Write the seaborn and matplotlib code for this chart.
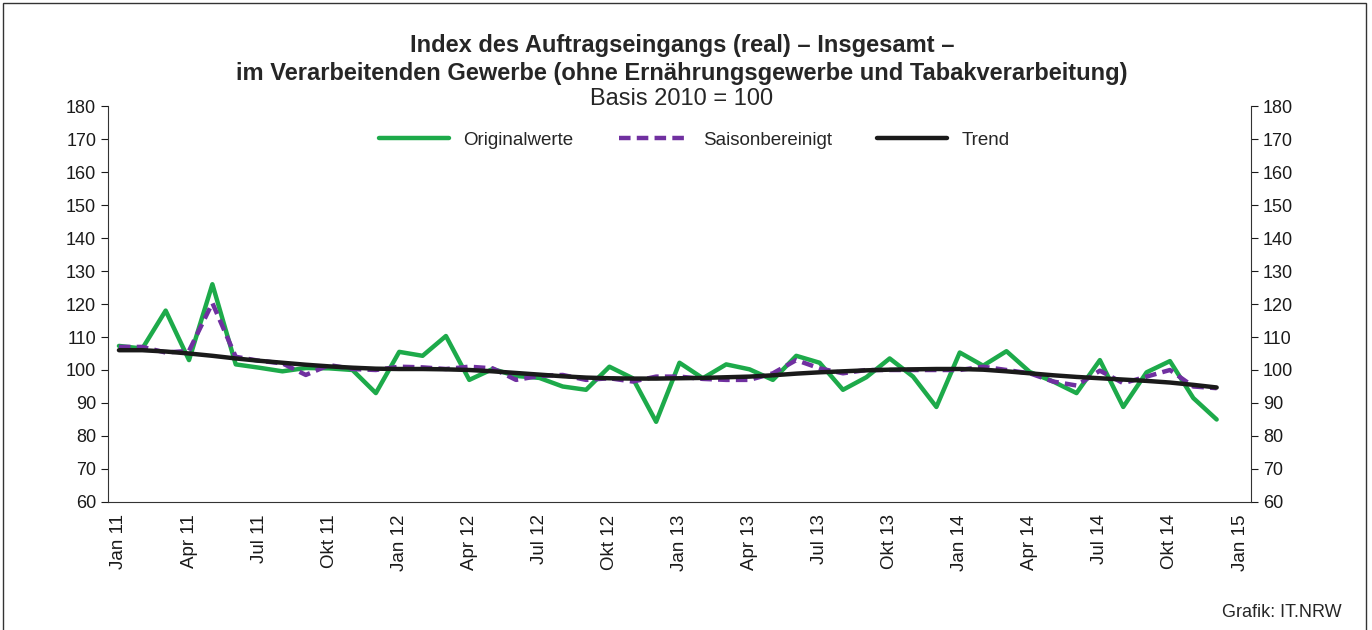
import pandas as pd
import numpy as np
import matplotlib.pyplot as plt
import seaborn as sns
from matplotlib.patches import Rectangle

# =====================================
# DATA (monthly, Jan 2011 - Dec 2014)
# =====================================
months = list(range(48))

originalwerte = [
    107.3, 106.5, 118.0, 103.0, 126.0, 101.7, 100.7, 99.6, 100.6, 100.5, 100.0, 93.0,
    105.5, 104.3, 110.3, 97.0, 100.3, 98.2, 97.6, 95.0, 94.0, 101.0, 97.5, 84.3,
    102.2, 97.5, 101.7, 100.2, 97.0, 104.3, 102.2, 94.0, 97.8, 103.5, 98.0, 88.8,
    105.3, 101.3, 105.7, 99.4, 96.5, 93.0, 103.0, 88.8, 99.3, 102.7, 91.5, 85.0,
]

saisonbereinigt = [
    107.0, 107.0, 105.3, 105.8, 120.3, 104.0, 102.8, 102.0, 98.5, 101.5, 100.3, 100.0,
    101.0, 100.8, 100.3, 101.0, 100.5, 97.0, 98.2, 98.5, 97.0, 97.5, 96.5, 98.0,
    98.0, 97.3, 97.0, 97.0, 99.0, 103.0, 100.5, 99.0, 100.0, 100.0, 100.0, 100.0,
    100.0, 101.0, 100.0, 99.0, 96.5, 95.3, 99.8, 96.0, 98.0, 100.0, 95.0, 94.5,
]

trend = [
    106.0, 106.0, 105.6, 105.0, 104.3, 103.5, 102.8, 102.2, 101.6, 101.1, 100.7, 100.4,
    100.3, 100.3, 100.2, 100.0, 99.6, 99.1, 98.6, 98.1, 97.7, 97.5, 97.4, 97.4,
    97.5, 97.6, 97.8, 98.0, 98.4, 98.9, 99.3, 99.6, 99.9, 100.1, 100.2, 100.3,
    100.3, 100.1, 99.6, 99.0, 98.4, 97.9, 97.5, 97.1, 96.7, 96.2, 95.5, 94.7,
]

tick_positions = list(range(0, 49, 3))
tick_labels = [
    "Jan 11", "Apr 11", "Jul 11", "Okt 11",
    "Jan 12", "Apr 12", "Jul 12", "Okt 12",
    "Jan 13", "Apr 13", "Jul 13", "Okt 13",
    "Jan 14", "Apr 14", "Jul 14", "Okt 14",
    "Jan 15",
]

df = pd.DataFrame({
    "monat": months,
    "Originalwerte": originalwerte,
    "Saisonbereinigt": saisonbereinigt,
    "Trend": trend,
})

# =====================================
# STYLE
# =====================================
sns.set_style("ticks")
plt.rcParams["font.family"] = ["Liberation Sans", "DejaVu Sans"]

fig = plt.figure(figsize=(13.72, 6.3), dpi=100)
ax = fig.add_axes([0.0787, 0.2032, 0.8331, 0.6285])

green = "#1daa4a"
purple = "#7030a0"
black = "#1a1a1a"

sns.lineplot(data=df, x="monat", y="Originalwerte", ax=ax,
             color=green, linewidth=3.2, label="Originalwerte")
sns.lineplot(data=df, x="monat", y="Saisonbereinigt", ax=ax,
             color=purple, linewidth=3.2, label="Saisonbereinigt")
ax.lines[-1].set_dashes((2.6, 1.4))
sns.lineplot(data=df, x="monat", y="Trend", ax=ax,
             color=black, linewidth=3.2, label="Trend")

# axes
ax.set_xlim(-0.47, 48.47)
ax.set_ylim(60, 180)
ax.set_yticks(np.arange(60, 181, 10))
ax.set_xticks(tick_positions)
ax.set_xticklabels(tick_labels, rotation=90)
ax.set_xlabel("")
ax.set_ylabel("")

ax.tick_params(axis="y", left=True, right=True, labelleft=True,
               labelright=True, labelsize=13, length=5, width=0.8,
               direction="out", colors="#1a1a1a")
ax.tick_params(axis="x", labelsize=13.5, length=0, pad=9, colors="#1a1a1a")

ax.spines["top"].set_visible(False)
ax.spines["right"].set_visible(True)
for s in ["left", "right", "bottom"]:
    ax.spines[s].set_linewidth(0.8)
    ax.spines[s].set_color("#333333")

# legend
ax.legend(loc="center", bbox_to_anchor=(0.513, 0.914), ncol=3, frameon=False,
          fontsize=13.5, handlelength=3.75, handletextpad=0.75,
          columnspacing=2.4)

# titles
fig.text(0.497, 0.927, "Index des Auftragseingangs (real) \u2013 Insgesamt \u2013",
         ha="center", va="center", fontsize=17, fontweight="bold")
fig.text(0.497, 0.884,
         "im Verarbeitenden Gewerbe (ohne Ern\u00e4hrungsgewerbe und Tabakverarbeitung)",
         ha="center", va="center", fontsize=17, fontweight="bold")
fig.text(0.497, 0.843, "Basis 2010 = 100", ha="center", va="center", fontsize=17)

fig.text(0.978, 0.027, "Grafik: IT.NRW", ha="right", va="center", fontsize=13)

# outer frame
fig.patches.append(Rectangle((0.0025, -0.02), 0.993, 1.015,
                             transform=fig.transFigure, fill=False,
                             edgecolor="#333333", linewidth=1.0))

fig.savefig("out.png", dpi=100)
